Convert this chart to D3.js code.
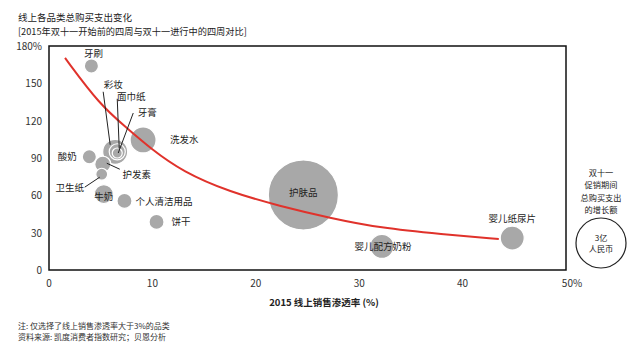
<!DOCTYPE html>
<html>
<head>
<meta charset="utf-8">
<script src="https://cdn.jsdelivr.net/npm/d3@7"></script>
<style>
  body { margin: 0; background: #fff; }
  text { font-family: "Noto Sans CJK SC", "Noto Sans", sans-serif; }
</style>
</head>
<body>
<div id="chart"></div>
<script>
// categories and values: x = 2015 online penetration (%), y = growth (%), size = growth amount (亿元)
const categories = ["牙刷", "彩妆", "面巾纸", "牙膏", "洗发水", "酸奶", "护发素", "卫生纸", "牛奶", "个人清洁用品", "饼干", "护肤品", "婴儿配方奶粉", "婴儿纸尿片"];
const penetration = [4.1, 6.4, 6.6, 6.6, 9.1, 3.9, 5.2, 5.1, 5.3, 7.3, 10.4, 24.6, 32.2, 44.8];
const growth = [164, 95, 95, 94, 104.5, 91, 85, 77, 61, 55.5, 38.6, 60.3, 19, 25.7];
const spend = [0.24, 0.75, 0.31, 0.12, 0.81, 0.24, 0.31, 0.17, 0.43, 0.27, 0.27, 5.9, 0.69, 0.69];

// trend line
const trendX = [1.55, 4.93, 7.54, 9.77, 12.96, 17.5, 22.3, 27.2, 32, 38, 43.5];
const trendY = [170.4, 132.6, 114.1, 98, 78.8, 62.7, 51.4, 41.8, 33.8, 28.8, 24.9];

const xTicks = [0, 10, 20, 30, 40, 50];
const yTicks = [0, 30, 60, 90, 120, 150, 180];
const legendValue = 3;

// label placement (pixel offsets from bubble centre) and leader lines
const labelPos = {
  "牙刷": [2, -12, null],
  "彩妆": [-2, -67, [[-12, -60], [-5, -7]]],
  "面巾纸": [14, -55, [[0, -53], [2, -3]]],
  "牙膏": [30, -41, [[16, -40], [1, 0]]],
  "洗发水": [27, 0, null, "start"],
  "酸奶": [-22, 0, null],
  "护发素": [34, 10, [[4, -1], [17, 5]]],
  "卫生纸": [-32, 13, [[-17, 13], [-2, 3]]],
  "牛奶": [0, 2, null],
  "个人清洁用品": [11, 1, null, "start"],
  "饼干": [15, 0, null, "start"],
  "护肤品": [0, -2, null],
  "婴儿配方奶粉": [1, 0, null],
  "婴儿纸尿片": [0, -20, null]
};

const width = 640, height = 353;
const svg = d3.select("#chart").append("svg")
    .attr("width", width)
    .attr("height", height);

const x = d3.scaleLinear().domain([0, 50]).range([49, 566]);
const y = d3.scaleLinear().domain([0, 180]).range([270, 46]);
const r = d3.scaleSqrt().domain([0, legendValue]).range([0, 25]);

// title
svg.append("text").attr("x", 18).attr("y", 21)
    .attr("font-size", 9.5).attr("fill", "#222")
    .text("线上各品类总购买支出变化");
svg.append("text").attr("x", 18).attr("y", 35)
    .attr("font-size", 9.2).attr("fill", "#222")
    .text("[2015年双十一开始前的四周与双十一进行中的四周对比]");

// frame
svg.append("rect")
    .attr("x", x(0)).attr("y", y(180))
    .attr("width", x(50) - x(0)).attr("height", y(0) - y(180))
    .attr("fill", "none").attr("stroke", "#111").attr("stroke-width", 1.5);

// y ticks
svg.selectAll(".ytick").data(yTicks).enter().append("text")
    .attr("x", 42).attr("y", d => y(d) + 4)
    .attr("text-anchor", "end").attr("font-size", 10).attr("fill", "#333")
    .text(d => d === 180 ? "180%" : d);

// x ticks
svg.selectAll(".xtick").data(xTicks).enter().append("text")
    .attr("x", d => x(d) + (d === 50 ? 6 : 0)).attr("y", 287)
    .attr("text-anchor", "middle").attr("font-size", 10).attr("fill", "#333")
    .text(d => d === 50 ? "50%" : d);

svg.append("text").attr("x", 324).attr("y", 306)
    .attr("text-anchor", "middle").attr("font-size", 9.5)
    .attr("font-weight", "bold").attr("fill", "#222")
    .text("2015 线上销售渗透率 (%)");

// bubbles, larger first
const bubbles = categories.map((c, i) => ({ name: c, px: penetration[i], gr: growth[i], v: spend[i] }));
const order = bubbles.slice().sort((a, b) => b.v - a.v);

svg.selectAll(".bubble").data(order).enter().append("circle")
    .attr("cx", d => x(d.px))
    .attr("cy", d => y(d.gr))
    .attr("r", d => r(d.v))
    .attr("fill", "#a8a8a8")
    .attr("stroke", "#fff")
    .attr("stroke-width", 1.2);

// trend curve
const trend = trendX.map((v, i) => [v, trendY[i]]);
svg.append("path")
    .datum(trend)
    .attr("d", d3.line().x(d => x(d[0])).y(d => y(d[1])).curve(d3.curveBasis))
    .attr("fill", "none")
    .attr("stroke", "#e0322b")
    .attr("stroke-width", 2);

// leader lines and labels
bubbles.forEach(d => {
  const p = labelPos[d.name];
  const cx = x(d.px), cy = y(d.gr);
  if (p[2]) {
    svg.append("line")
        .attr("x1", cx + p[2][0][0]).attr("y1", cy + p[2][0][1])
        .attr("x2", cx + p[2][1][0]).attr("y2", cy + p[2][1][1])
        .attr("stroke", "#222").attr("stroke-width", 1);
  }
  svg.append("text")
      .attr("x", cx + p[0]).attr("y", cy + p[1] + 3.5)
      .attr("text-anchor", p[3] || "middle")
      .attr("font-size", 9.5).attr("fill", "#222")
      .text(d.name);
});

// legend
const lx = 601, ly = 243;
["双十一", "促销期间", "总购买支出", "的增长额"].forEach((t, i) => {
  svg.append("text").attr("x", lx).attr("y", 176 + i * 12.3)
      .attr("text-anchor", "middle").attr("font-size", 8.2).attr("fill", "#222")
      .text(t);
});
svg.append("circle").attr("cx", lx).attr("cy", ly).attr("r", r(legendValue))
    .attr("fill", "#fff").attr("stroke", "#222").attr("stroke-width", 1.2);
svg.append("text").attr("x", lx).attr("y", ly - 2)
    .attr("text-anchor", "middle").attr("font-size", 8.2).attr("fill", "#222").text("3亿");
svg.append("text").attr("x", lx).attr("y", ly + 9)
    .attr("text-anchor", "middle").attr("font-size", 8.2).attr("fill", "#222").text("人民币");

// notes
svg.append("text").attr("x", 18).attr("y", 329)
    .attr("font-size", 8).attr("fill", "#333")
    .text("注: 仅选择了线上销售渗透率大于3%的品类");
svg.append("text").attr("x", 18).attr("y", 340)
    .attr("font-size", 8).attr("fill", "#333")
    .text("资料来源: 凯度消费者指数研究；贝恩分析");
</script>
</body>
</html>
